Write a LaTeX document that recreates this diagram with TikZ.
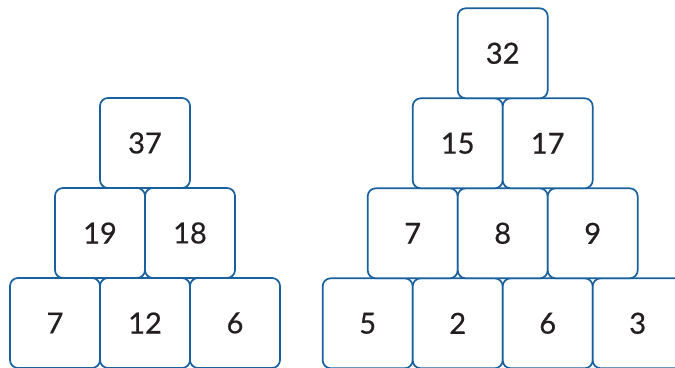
\documentclass[tikz,border=0pt]{standalone}
\usepackage{fontspec}
\setmainfont{Lato}[UprightFeatures={FakeBold=0.6}]
\definecolor{boxblue}{RGB}{24,96,158}
\definecolor{digit}{RGB}{35,31,32}
\tikzset{
  cell/.style={draw=boxblue, line width=1.7pt, rounded corners=8pt,
    minimum width=90pt, minimum height=90pt, inner sep=0pt,
    text=digit, font=\fontsize{29}{29}\selectfont, fill=white}
}
\begin{document}
\begin{tikzpicture}[x=1pt,y=1pt]
\useasboundingbox (0,0) rectangle (675,367);
\clip (0,0) rectangle (675,367);
% left pyramid
\node[cell] (l31) at (55,44) {7};
\node[cell] (l32) at (145,44) {12};
\node[cell] (l33) at (235,44) {6};
\node[cell] (l21) at (100,134) {19};
\node[cell] (l22) at (190,134) {18};
\node[cell] (l11) at (145,224) {37};
% right pyramid
\node[cell] (r41) at (367.7,43.7) {5};
\node[cell] (r42) at (457.7,43.7) {2};
\node[cell] (r43) at (547.7,43.7) {6};
\node[cell] (r44) at (637.7,43.7) {3};
\node[cell] (r31) at (412.7,133.7) {7};
\node[cell] (r32) at (502.7,133.7) {8};
\node[cell] (r33) at (592.7,133.7) {9};
\node[cell] (r21) at (457.7,223.7) {15};
\node[cell] (r22) at (547.7,223.7) {17};
\node[cell] (r11) at (502.7,313.7) {32};
\end{tikzpicture}
\end{document}
